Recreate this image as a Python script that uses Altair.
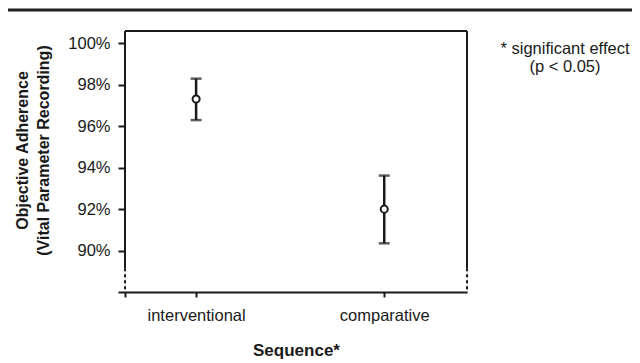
import altair as alt
import pandas as pd

# ---- data ----
sequence = ["interventional", "comparative"]
xpos = [1, 2]
mean = [0.9732, 0.9200]
lower = [0.9630, 0.9035]
upper = [0.9830, 0.9362]

y_ticks = [0.88, 0.90, 0.92, 0.94, 0.96, 0.98, 1.00]
y_domain = [0.88, 1.006]
x_domain = [0.622, 2.44]
axis_break = 0.8915
note_lines = ["* significant effect", "(p < 0.05)"]

df = pd.DataFrame({"seq": sequence, "x": xpos, "mean": mean, "lo": lower, "hi": upper})

FONT = "Liberation Sans"
INK = "#1a1a1a"

xs = alt.Scale(domain=x_domain, nice=False, zero=False)
ys = alt.Scale(domain=y_domain, nice=False, zero=False)

x_enc = alt.X(
    "x:Q", scale=xs,
    axis=alt.Axis(
        values=[x_domain[0], 1, 2],
        labelExpr="datum.value == 1 ? 'interventional' : (datum.value == 2 ? 'comparative' : '')",
        title="Sequence*", titleFontSize=17, titleFontWeight="bold", titleFont=FONT,
        titleColor=INK, titleY=58, titleBaseline="middle",
        labelFont=FONT, labelFontSize=16.5, labelColor=INK, labelPadding=10,
        tickSize=5, tickWidth=2, tickColor=INK,
        domain=True, domainWidth=2, domainColor=INK, grid=False, labelFlush=False,
    ),
)
y_enc = alt.Y(
    "mean:Q", scale=ys,
    axis=alt.Axis(
        values=y_ticks,
        labelExpr="datum.value < 0.89 ? '' : format(datum.value, '.0%')",
        title=["Objective Adherence", "(Vital Parameter Recording)"],
        titleFontSize=16, titleFontWeight="bold", titleFont=FONT, titleColor=INK,
        titleAngle=-90, titleBaseline="top", titleAlign="center",
        titleX=-111, titleY=119, titleLineHeight=21,
        labelFont=FONT, labelFontSize=16.5, labelColor=INK, labelPadding=8,
        tickSize=7, tickWidth=2, tickColor=INK,
        domain=False, grid=False,
    ),
)

base = alt.Chart(df)

bars = base.mark_rule(strokeWidth=2.5, color=INK).encode(
    x=alt.X("x:Q", scale=xs), y=alt.Y("lo:Q", scale=ys), y2="hi:Q"
)
cap_lo = base.mark_tick(orient="horizontal", size=11, thickness=2.5, color=INK).encode(
    x=alt.X("x:Q", scale=xs), y=alt.Y("lo:Q", scale=ys)
)
cap_hi = base.mark_tick(orient="horizontal", size=11, thickness=2.5, color=INK).encode(
    x=alt.X("x:Q", scale=xs), y=alt.Y("hi:Q", scale=ys)
)
pts = base.mark_point(shape="circle", size=50, fill="white", fillOpacity=1, stroke=INK,
                      strokeWidth=2, opacity=1).encode(x=x_enc, y=y_enc)

# frame: left / right solid + dotted axis break, top line
frame = []
for xv in x_domain:
    frame.append(alt.Chart().mark_rule(strokeWidth=2, color=INK).encode(
        x=alt.datum(xv, scale=xs), y=alt.datum(y_domain[1], scale=ys), y2=alt.datum(axis_break)))
    frame.append(alt.Chart().mark_rule(strokeWidth=2, color=INK, strokeDash=[3, 3]).encode(
        x=alt.datum(xv, scale=xs), y=alt.datum(axis_break, scale=ys), y2=alt.datum(y_domain[0])))
frame.append(alt.Chart().mark_rule(strokeWidth=2, color=INK).encode(
    x=alt.datum(x_domain[0], scale=xs), x2=alt.datum(x_domain[1]), y=alt.datum(y_domain[1], scale=ys)))

top_line = alt.Chart().mark_rule(strokeWidth=3, color="#222222").encode(
    x=alt.value(-117), x2=alt.value(507), y=alt.value(-21))

note = alt.Chart().mark_text(font=FONT, fontSize=16.5, color=INK, align="center",
                             baseline="top", lineHeight=18).encode(
    x=alt.value(440), y=alt.value(10), text=alt.value(note_lines))

chart = alt.layer(top_line, *frame, bars, cap_lo, cap_hi, pts, note).properties(
    width=342, height=261,
    autosize=alt.AutoSizeParams(type="none"),
    padding={"left": 117, "top": 23, "right": 165, "bottom": 70},
).configure_view(stroke=None).configure(background="white")

chart.save("out.html", embed_options={"renderer": "svg", "actions": False})
